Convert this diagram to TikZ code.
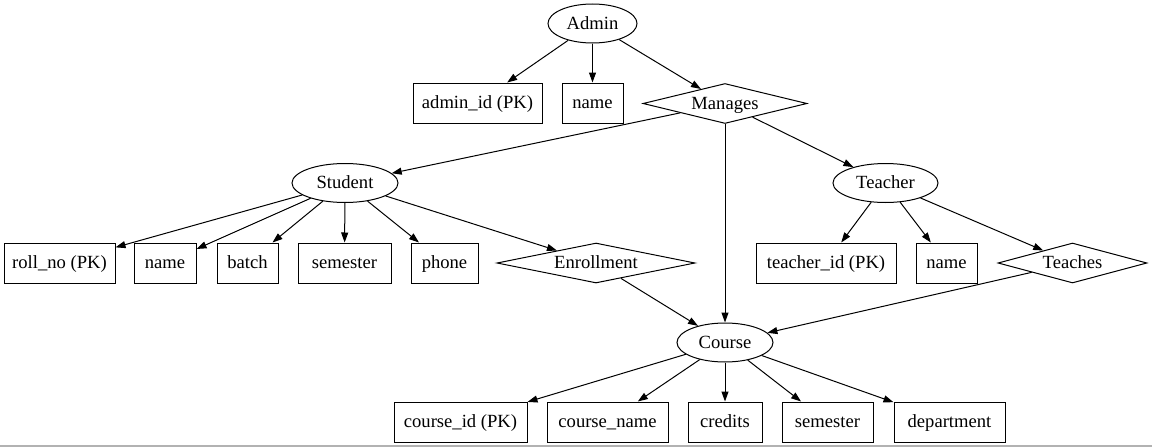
\documentclass[tikz,border=0pt]{standalone}
\usepackage{fontspec}
\setmainfont{Liberation Serif}
\usetikzlibrary{shapes.geometric,arrows.meta}
\begin{document}
\begin{tikzpicture}[x=1pt,y=-1pt,
  every node/.style={font=\fontsize{18.6}{20}\selectfont, inner sep=0pt, text height=13pt, text depth=2pt},
  ent/.style={ellipse, draw, line width=1pt, minimum height=39pt},
  attr/.style={rectangle, draw, line width=1pt, minimum height=40pt},
  rel/.style={diamond, draw, line width=1pt, shape aspect=5, minimum height=40pt},
  link/.style={line width=1pt, -{Triangle[length=10pt,width=7pt]}}]
\useasboundingbox (0,0) rectangle (1152,447);
\draw[gray!60, line width=1.2pt] (0,446) -- (1152,446);

\node[ent, minimum width=89pt] (admin) at (592.5,23.5) {Admin};
\node[attr, minimum width=129pt] (aid) at (477.5,103) {admin\_id (PK)};
\node[attr, minimum width=61pt] (aname) at (592.5,103) {name};
\node[rel, minimum width=164pt] (manages) at (725,103.5) {Manages};

\node[ent, minimum width=106pt] (student) at (345,183) {Student};
\node[ent, minimum width=105pt] (teacher) at (885.5,183) {Teacher};

\node[attr, minimum width=111pt] (roll) at (59.5,263) {roll\_no (PK)};
\node[attr, minimum width=62pt] (sname) at (165,263) {name};
\node[attr, minimum width=61pt] (batch) at (247.5,263) {batch};
\node[attr, minimum width=93pt] (ssem) at (344.5,263) {semester};
\node[attr, minimum width=67pt] (phone) at (444.5,263) {phone};
\node[rel, minimum width=198pt] (enroll) at (596,263) {Enrollment};
\node[attr, minimum width=140pt] (tid) at (826,263) {teacher\_id (PK)};
\node[attr, minimum width=61pt] (tname) at (946.5,263) {name};
\node[rel, minimum width=149pt] (teaches) at (1072.5,263) {Teaches};

\node[ent, minimum width=96pt] (course) at (725,342.5) {Course};

\node[attr, minimum width=133pt] (cid) at (460.5,422) {course\_id (PK)};
\node[attr, minimum width=121pt] (cname) at (607.5,422) {course\_name};
\node[attr, minimum width=74pt] (credits) at (725,422) {credits};
\node[attr, minimum width=91pt] (csem) at (827.5,422) {semester};
\node[attr, minimum width=111pt] (dept) at (949.5,422) {department};

\foreach \t in {aid,aname,manages} \draw[link] (admin) -- (\t);
\foreach \t in {student,course,teacher} \draw[link] (manages) -- (\t);
\foreach \t in {roll,sname,batch,ssem,phone,enroll} \draw[link] (student) -- (\t);
\foreach \t in {tid,tname,teaches} \draw[link] (teacher) -- (\t);
\draw[link] (enroll) -- (course);
\draw[link] (teaches) -- (course);
\foreach \t in {cid,cname,credits,csem,dept} \draw[link] (course) -- (\t);
\end{tikzpicture}
\end{document}
